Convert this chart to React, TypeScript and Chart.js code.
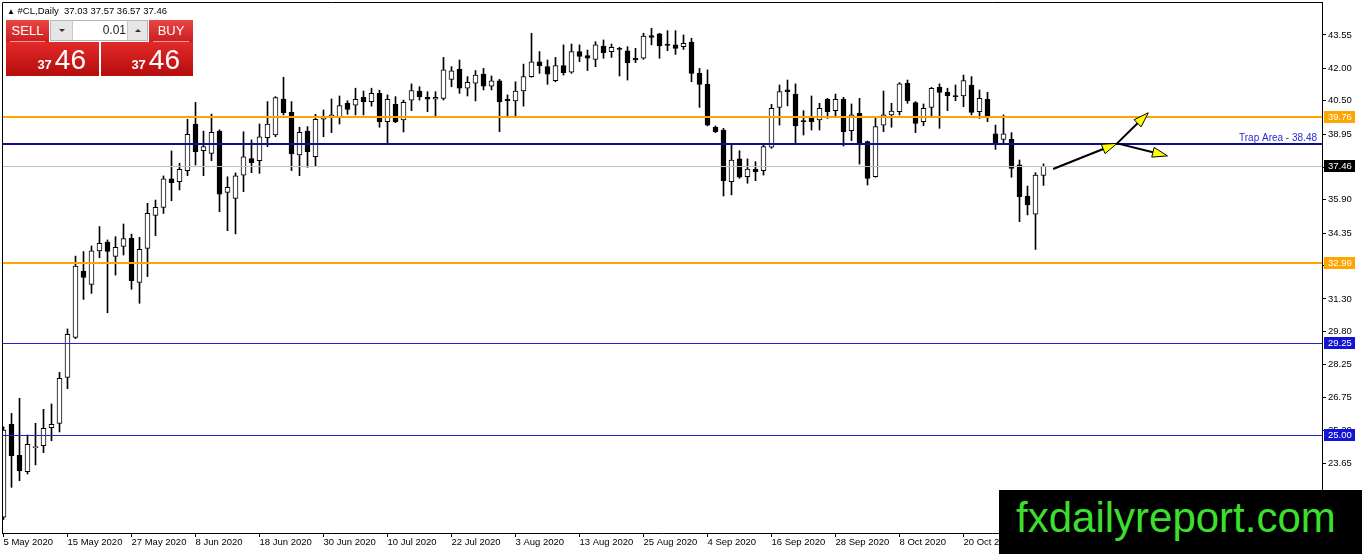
import { useEffect, useRef } from "react"
import { Chart, registerables } from "chart.js"

Chart.register(...registerables)

// #CL daily bars, one per trading day starting 5 May 2020
const opens = [
  21.17, 25.48, 24.04, 23.29, 24.40, 24.49, 25.33, 25.53, 27.66, 29.52,
  32.60, 31.98, 33.53, 33.94, 33.28, 33.74, 34.11, 32.07, 33.65, 35.18,
  35.55, 36.87, 36.74, 37.26, 39.42, 38.18, 38.06, 39.09, 36.25, 35.97,
  37.05, 37.82, 37.72, 38.79, 38.91, 40.58, 39.96, 37.98, 39.09, 37.90,
  39.64, 39.73, 39.76, 40.38, 40.29, 40.66, 40.46, 40.84, 39.53, 40.33,
  39.61, 40.53, 40.95, 40.66, 40.57, 40.61, 41.49, 41.96, 41.08, 41.31,
  41.74, 41.18, 41.42, 40.57, 40.49, 40.95, 41.62, 42.31, 42.08, 41.43,
  42.13, 41.82, 42.78, 42.59, 42.42, 43.04, 42.78, 42.93, 42.81, 42.47,
  42.47, 43.52, 43.60, 43.13, 43.09, 43.01, 43.21, 41.77, 41.26, 39.27,
  39.14, 36.74, 37.80, 36.98, 37.33, 37.25, 38.34, 40.19, 41.00, 40.81,
  39.56, 39.68, 39.61, 40.56, 40.04, 40.56, 39.11, 39.92, 38.60, 36.98,
  39.37, 39.84, 39.99, 41.31, 40.41, 39.53, 40.19, 41.12, 40.89, 40.72,
  40.72, 41.23, 39.99, 40.56, 38.96, 38.71, 38.71, 37.52, 36.08, 35.23,
  37.03,
]
const highs = [
  25.37, 25.99, 26.69, 24.99, 25.53, 26.18, 26.43, 27.90, 29.91, 33.29,
  33.50, 33.76, 34.66, 34.04, 34.19, 34.78, 34.31, 34.16, 35.74, 35.89,
  37.01, 38.17, 37.60, 39.64, 40.42, 39.09, 39.88, 39.15, 36.97, 37.15,
  39.06, 38.68, 39.42, 40.46, 40.69, 41.59, 40.46, 39.27, 39.30, 39.87,
  40.07, 40.58, 40.72, 40.50, 41.08, 40.95, 41.08, 40.99, 40.77, 40.69,
  40.53, 41.28, 41.15, 40.92, 40.92, 42.51, 42.08, 42.39, 41.62, 41.90,
  42.00, 41.65, 41.49, 40.77, 41.38, 42.20, 43.63, 42.78, 42.39, 42.51,
  43.09, 43.13, 43.09, 42.85, 43.24, 43.32, 43.13, 42.98, 43.01, 42.93,
  43.63, 43.86, 43.63, 43.75, 43.75, 43.55, 43.40, 42.00, 41.93, 39.33,
  39.22, 38.45, 38.18, 37.80, 37.67, 38.52, 40.33, 41.23, 41.46, 41.28,
  40.04, 40.72, 40.38, 40.61, 40.81, 40.66, 40.35, 40.61, 38.63, 39.73,
  40.95, 40.38, 41.34, 41.46, 40.46, 40.35, 41.12, 41.28, 41.08, 41.23,
  41.69, 41.62, 41.00, 40.89, 39.37, 39.84, 39.02, 37.75, 36.54, 37.16,
  37.57,
]
const lows = [
  21.07, 22.56, 22.87, 23.18, 23.60, 24.17, 24.72, 25.13, 27.14, 29.46,
  31.28, 31.56, 33.22, 30.66, 32.41, 33.34, 31.75, 31.10, 32.34, 34.24,
  35.27, 35.86, 36.36, 37.02, 37.52, 37.02, 37.72, 35.35, 34.47, 34.32,
  36.28, 37.16, 37.13, 38.37, 38.83, 39.84, 37.26, 37.02, 37.41, 37.47,
  38.83, 39.02, 39.42, 39.87, 39.84, 39.84, 40.25, 39.27, 38.52, 39.48,
  39.05, 40.04, 40.53, 39.99, 39.79, 40.53, 41.15, 40.84, 40.72, 40.49,
  41.00, 41.00, 39.06, 39.79, 39.79, 40.25, 41.59, 41.77, 41.26, 41.38,
  41.69, 41.77, 42.31, 41.90, 42.08, 42.47, 42.51, 41.65, 41.46, 42.27,
  42.42, 43.09, 42.47, 42.82, 42.65, 42.88, 41.38, 40.19, 39.33, 39.02,
  36.08, 36.13, 36.90, 36.67, 36.79, 37.05, 38.29, 39.37, 40.26, 38.55,
  38.91, 39.14, 39.14, 39.68, 39.76, 38.40, 38.65, 37.56, 36.59, 36.95,
  39.06, 39.27, 39.84, 40.38, 39.02, 39.34, 39.79, 39.22, 40.04, 40.50,
  40.22, 39.84, 39.68, 39.53, 38.24, 38.55, 36.95, 34.89, 35.20, 33.60,
  36.57,
]
const closes = [
  25.22, 24.03, 23.33, 24.56, 24.43, 25.30, 25.48, 27.62, 29.66, 32.83,
  32.30, 33.53, 33.88, 33.51, 33.70, 34.10, 32.15, 33.60, 35.27, 35.55,
  36.87, 36.70, 37.32, 38.94, 38.14, 38.37, 39.03, 36.16, 36.48, 37.02,
  37.90, 37.62, 38.83, 39.42, 40.64, 39.95, 38.03, 39.03, 38.14, 39.64,
  39.76, 39.84, 40.27, 40.10, 40.57, 40.46, 40.84, 39.53, 40.57, 39.53,
  40.43, 40.97, 40.69, 40.57, 40.66, 41.93, 41.89, 41.08, 41.35, 41.69,
  41.18, 41.42, 40.46, 40.50, 40.95, 41.62, 42.31, 42.13, 41.73, 42.13,
  41.80, 42.78, 42.55, 42.47, 43.09, 42.73, 42.98, 42.88, 42.27, 42.39,
  43.50, 43.44, 43.06, 43.07, 42.93, 43.16, 41.77, 41.26, 39.37, 39.06,
  36.79, 37.75, 36.95, 37.33, 37.21, 38.37, 40.15, 40.92, 40.92, 39.34,
  39.53, 39.53, 40.15, 39.99, 40.56, 39.06, 39.84, 38.52, 36.90, 39.30,
  39.84, 40.02, 41.28, 40.50, 39.45, 40.15, 41.08, 40.89, 40.74, 40.69,
  41.43, 39.96, 40.61, 39.81, 38.55, 38.96, 37.36, 36.05, 35.66, 37.05,
  37.46,
]

const dateLabels = [
  "5 May 2020", "15 May 2020", "27 May 2020", "8 Jun 2020", "18 Jun 2020", "30 Jun 2020",
  "10 Jul 2020", "22 Jul 2020", "3 Aug 2020", "13 Aug 2020", "25 Aug 2020", "4 Sep 2020",
  "16 Sep 2020", "28 Sep 2020", "8 Oct 2020", "20 Oct 2020",
]
const dateLabelBars = [0, 8, 16, 24, 32, 40, 48, 56, 64, 72, 80, 88, 96, 104, 112, 120]
const priceTicks = [43.55, 42.0, 40.5, 38.95, 37.4, 35.9, 34.35, 32.85, 31.3, 29.8, 28.25, 26.75, 25.2, 23.65, 22.1]

const orangeLevels = [39.76, 32.99]
const blueLevels = [29.25, 25.0]
const trapLevel = 38.48
const bidPrice = 37.46

// arrows: [bar, price] -> [bar, price]
const arrowPaths = [
  [131.2, 37.33, 139.2, 38.52],
  [139.2, 38.52, 143.1, 39.94],
  [139.2, 38.52, 145.5, 37.94],
]

const FONT = "'Liberation Sans', Arial, sans-serif"
const NARROW = "'Liberation Sans Narrow', 'Liberation Sans', Arial, sans-serif"

const overlay = {
  id: "overlay",
  afterDatasetsDraw(chart: any) {
    const { ctx, chartArea: a } = chart
    const xs = chart.scales.x
    const ys = chart.scales.y
    ctx.save()
    ctx.beginPath()
    ctx.rect(a.left, a.top, a.right - a.left, a.bottom - a.top)
    ctx.clip()

    const hline = (price: number, color: string, width: number) => {
      const y = Math.round(ys.getPixelForValue(price)) + (width % 2 ? 0.5 : 0)
      ctx.strokeStyle = color
      ctx.lineWidth = width
      ctx.beginPath()
      ctx.moveTo(a.left, y)
      ctx.lineTo(a.right, y)
      ctx.stroke()
    }
    hline(bidPrice, "#c0c0c0", 1)
    blueLevels.forEach((p) => hline(p, "#2424c8", 1))
    orangeLevels.forEach((p) => hline(p, "#ffa500", 2))
    hline(trapLevel, "#0c0c9a", 2)

    ctx.font = `10px ${FONT}`
    ctx.fillStyle = "#2a2ad2"
    ctx.textAlign = "right"
    ctx.textBaseline = "alphabetic"
    ctx.fillText(`Trap Area - ${trapLevel.toFixed(2)}`, a.right - 5, ys.getPixelForValue(trapLevel) - 3)

    arrowPaths.forEach(([b0, p0, b1, p1]) => {
      const x0 = xs.getPixelForValue(b0)
      const y0 = ys.getPixelForValue(p0)
      const x1 = xs.getPixelForValue(b1)
      const y1 = ys.getPixelForValue(p1)
      const ang = Math.atan2(y1 - y0, x1 - x0)
      const c = Math.cos(ang)
      const s = Math.sin(ang)
      const len = 15
      const half = 5
      const bx = x1 - len * c
      const by = y1 - len * s
      ctx.strokeStyle = "#000"
      ctx.lineWidth = 2
      ctx.beginPath()
      ctx.moveTo(x0, y0)
      ctx.lineTo(bx, by)
      ctx.stroke()
      ctx.beginPath()
      ctx.moveTo(x1, y1)
      ctx.lineTo(bx - half * s, by + half * c)
      ctx.lineTo(bx + half * s, by - half * c)
      ctx.closePath()
      ctx.fillStyle = "#ffff00"
      ctx.fill()
      ctx.lineWidth = 1
      ctx.stroke()
    })
    ctx.restore()
  },
  afterDraw(chart: any) {
    const { ctx, chartArea: a } = chart
    const ys = chart.scales.y
    ctx.save()
    // top and left frame
    ctx.strokeStyle = "#000"
    ctx.lineWidth = 1
    ctx.beginPath()
    ctx.moveTo(a.left + 0.5, a.bottom)
    ctx.lineTo(a.left + 0.5, a.top + 0.5)
    ctx.lineTo(a.right, a.top + 0.5)
    ctx.stroke()

    const tag = (price: number, bg: string) => {
      const y = Math.round(ys.getPixelForValue(price))
      ctx.fillStyle = bg
      ctx.fillRect(a.right + 2, y - 6, 31, 12)
      ctx.fillStyle = "#fff"
      ctx.font = `9.5px ${FONT}`
      ctx.textAlign = "left"
      ctx.textBaseline = "middle"
      ctx.fillText(price.toFixed(2), a.right + 6, y + 0.5)
    }
    orangeLevels.forEach((p) => tag(p, "#ffa500"))
    tag(bidPrice, "#000")
    blueLevels.forEach((p) => tag(p, "#1414d8"))
    ctx.restore()
  },
}

// drop the label overhang padding that chart.js adds around each axis
const noPadding = (s: any) => {
  s.paddingTop = 0
  s.paddingBottom = 0
  s.paddingLeft = 0
  s.paddingRight = 0
}

function PriceBox({ left, width }: { left: number; width: number }) {
  const [big, small] = bidPrice.toFixed(2).split(".")
  return (
    <div
      style={{
        position: "absolute", left, top: 42, width, height: 34,
        background: "linear-gradient(#e22a2a, #b50c0c)", color: "#fff",
        display: "flex", justifyContent: "flex-end", alignItems: "baseline",
        paddingRight: 13, paddingTop: 4, boxSizing: "border-box",
        font: `28px ${FONT}`, lineHeight: "28px",
      }}
    >
      <span style={{ fontSize: 13, fontWeight: "bold", marginRight: 3 }}>{big}</span>
      <span>{small}</span>
    </div>
  )
}

function SmallButton({ left, width, text }: { left: number; width: number; text: string }) {
  return (
    <div
      style={{
        position: "absolute", left, top: 20, width, height: 22,
        background: "linear-gradient(#e84545, #cc1e1e)", color: "#fff",
        font: `13px ${NARROW}`, lineHeight: "21px", textAlign: "center",
      }}
    >
      {text}
      <div style={{ position: "absolute", left: 4, right: 4, bottom: 0, height: 1, background: "#f29a9a" }} />
    </div>
  )
}

function Triangle({ up }: { up: boolean }) {
  return (
    <div
      style={{
        width: 0, height: 0, margin: "8px auto 0",
        borderLeft: "3px solid transparent", borderRight: "3px solid transparent",
        ...(up ? { borderBottom: "3px solid #333" } : { borderTop: "3px solid #333" }),
      }}
    />
  )
}

export default function App() {
  const chartRef = useRef<HTMLCanvasElement>(null)
  const chartInstance = useRef<Chart | null>(null)

  useEffect(() => {
    if (!chartRef.current) return
    const ctx = chartRef.current.getContext("2d")
    if (!ctx) return

    if (chartInstance.current) {
      chartInstance.current.destroy()
    }

    const bodies = opens.map((o, i) => ({ x: i, y: [o, closes[i]] }))
    const wicks = lows.map((l, i) => ({ x: i, y: [l, highs[i]] }))
    const bodyColors = opens.map((o, i) => (closes[i] >= o ? "#ffffff" : "#000000"))
    const font = { family: FONT, size: 9.5 }

    chartInstance.current = new Chart(ctx, {
      type: "bar",
      data: {
        datasets: [
          {
            label: "body",
            data: bodies as any,
            backgroundColor: bodyColors,
            borderColor: "#000",
            borderWidth: 1,
            borderSkipped: false,
            barThickness: 5,
            minBarLength: 1,
            grouped: false,
            order: 0,
          },
          {
            label: "wick",
            data: wicks as any,
            backgroundColor: "#000",
            borderWidth: 0,
            barThickness: 1,
            grouped: false,
            order: 1,
          },
        ],
      },
      options: {
        animation: false,
        responsive: false,
        devicePixelRatio: 1,
        events: [],
        layout: { padding: { left: 2, top: 2, right: 0, bottom: 0 } },
        plugins: {
          legend: { display: false },
          tooltip: { enabled: false },
        },
        scales: {
          x: {
            type: "linear",
            offset: false,
            min: -0.1875,
            max: 164.8125,
            afterBuildTicks: (s: any) => {
              s.ticks = dateLabelBars.map((v) => ({ value: v }))
            },
            afterFit: (s: any) => {
              s.height = 21
              noPadding(s)
            },
            ticks: {
              autoSkip: false,
              maxRotation: 0,
              align: "start",
              padding: 0,
              color: "#000",
              font,
              callback: (_v: any, i: number) => dateLabels[i] ?? "",
            },
            grid: { drawOnChartArea: false, drawTicks: true, tickLength: 4, color: "#000", offset: false },
            border: { display: true, color: "#000" },
          },
          y: {
            type: "linear",
            position: "right",
            min: 20.441,
            max: 45.081,
            afterBuildTicks: (s: any) => {
              s.ticks = priceTicks.map((v) => ({ value: v }))
            },
            afterFit: (s: any) => {
              s.width = 40
              noPadding(s)
            },
            ticks: {
              padding: 2,
              color: "#000",
              font,
              callback: (v: any) => Number(v).toFixed(2),
            },
            grid: { drawOnChartArea: false, drawTicks: true, tickLength: 4, color: "#000" },
            border: { display: true, color: "#000" },
          },
        },
      } as any,
      plugins: [overlay],
    })

    return () => {
      if (chartInstance.current) {
        chartInstance.current.destroy()
        chartInstance.current = null
      }
    }
  }, [])

  const n = closes.length - 1
  const header = `#CL,Daily  ${opens[n].toFixed(2)} ${highs[n].toFixed(2)} ${lows[n].toFixed(2)} ${closes[n].toFixed(2)}`

  return (
    <div style={{ position: "fixed", left: 0, top: 0, width: 1362, height: 554, background: "#fff", overflow: "hidden" }}>
      <canvas ref={chartRef} width={1362} height={554} style={{ position: "absolute", left: 0, top: 0 }} />

      <div style={{ position: "absolute", left: 7, top: 5, font: `9.5px ${FONT}`, lineHeight: "12px", color: "#000", whiteSpace: "pre" }}>
        <span style={{ fontSize: 8 }}>{"\u25B2"}</span> {header}
      </div>

      <SmallButton left={6} width={43} text="SELL" />
      <div
        style={{
          position: "absolute", left: 50, top: 20, width: 98, height: 21,
          background: "#fff", border: "1px solid #b4b4b4", boxSizing: "border-box",
        }}
      >
        <div style={{ position: "absolute", left: 0, top: 0, width: 21, height: 19, background: "#e6e6e6", borderRight: "1px solid #c8c8c8" }}>
          <Triangle up={false} />
        </div>
        <div style={{ position: "absolute", right: 21, top: 0, font: `12px ${FONT}`, lineHeight: "19px", color: "#222" }}>0.01</div>
        <div style={{ position: "absolute", right: 0, top: 0, width: 19, height: 19, background: "#e6e6e6", borderLeft: "1px solid #c8c8c8" }}>
          <Triangle up={true} />
        </div>
      </div>
      <SmallButton left={149} width={44} text="BUY" />
      <PriceBox left={6} width={93} />
      <PriceBox left={101} width={92} />

      <div style={{ position: "absolute", left: 999, top: 490, width: 363, height: 64, background: "#000" }}>
        <div style={{ position: "absolute", left: 17, top: 7, font: `42px ${FONT}`, lineHeight: "42px", color: "#3cdf2e", whiteSpace: "nowrap" }}>
          fxdailyreport.com
        </div>
      </div>
    </div>
  )
}
